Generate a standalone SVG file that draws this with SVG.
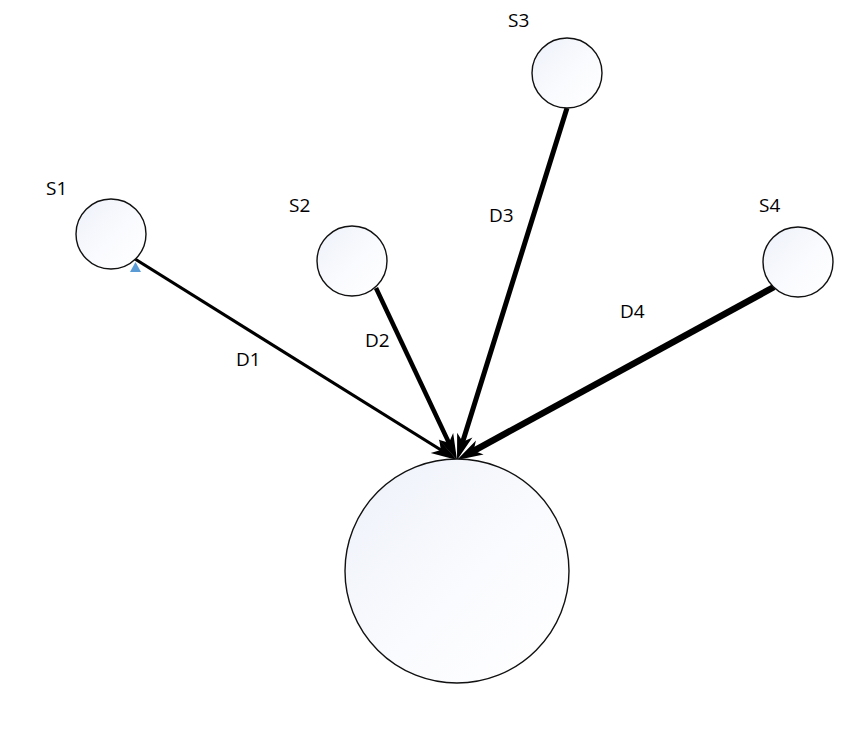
<svg xmlns="http://www.w3.org/2000/svg" width="866" height="746" viewBox="0 0 866 746">
  <style>
    .node { stroke: #111; stroke-width: 1.4; fill: url(#g); }
    .lbl { font-family: "Open Sans", "Liberation Sans", sans-serif; font-size: 19px; fill: #000; }
    .edge { stroke: #000; fill: none; stroke-linecap: butt; marker-end: url(#ah); }
  </style>
  <defs>
    <linearGradient id="g" x1="0" y1="0" x2="1" y2="1">
      <stop offset="0" stop-color="#edf1f9"/>
      <stop offset="0.55" stop-color="#fafbfe"/>
      <stop offset="1" stop-color="#ffffff"/>
    </linearGradient>
    <marker id="ah" markerUnits="userSpaceOnUse" orient="auto" viewBox="-12 -10 30 20" markerWidth="30" markerHeight="20" refX="0" refY="0" overflow="visible">
      <path d="M16,0 L-10,-8 L-3,0 L-10,8 Z" fill="#000"/>
    </marker>
  </defs>
  <rect width="866" height="746" fill="#fff"/>

  <g id="connectors">
    <line class="edge" x1="135" y1="259" x2="443.4" y2="451.5" stroke-width="3.2"/>
    <line class="edge" x1="376" y1="288" x2="450.2" y2="445.5" stroke-width="4.5"/>
    <line class="edge" x1="567" y1="108" x2="461.8" y2="444.7" stroke-width="5"/>
    <line class="edge" x1="774" y1="287" x2="471" y2="452.3" stroke-width="6.5"/>
    <text class="lbl" x="236" y="366">D1</text>
    <text class="lbl" x="365" y="347">D2</text>
    <text class="lbl" x="489" y="222">D3</text>
    <text class="lbl" x="620" y="318">D4</text>
  </g>

  <g id="S1">
    <circle class="node" cx="111" cy="234" r="35"/>
    <text class="lbl" x="46" y="195">S1</text>
    <polygon points="135.5,262 130,272 141,272" fill="#5b9bd5"/>
  </g>
  <g id="S2">
    <circle class="node" cx="352" cy="261" r="35"/>
    <text class="lbl" x="289" y="212">S2</text>
  </g>
  <g id="S3">
    <circle class="node" cx="567" cy="73" r="35"/>
    <text class="lbl" x="508" y="27">S3</text>
  </g>
  <g id="S4">
    <circle class="node" cx="798" cy="262" r="35"/>
    <text class="lbl" x="759" y="212">S4</text>
  </g>
  <g id="T">
    <circle class="node" cx="457" cy="571" r="112"/>
  </g>
</svg>
